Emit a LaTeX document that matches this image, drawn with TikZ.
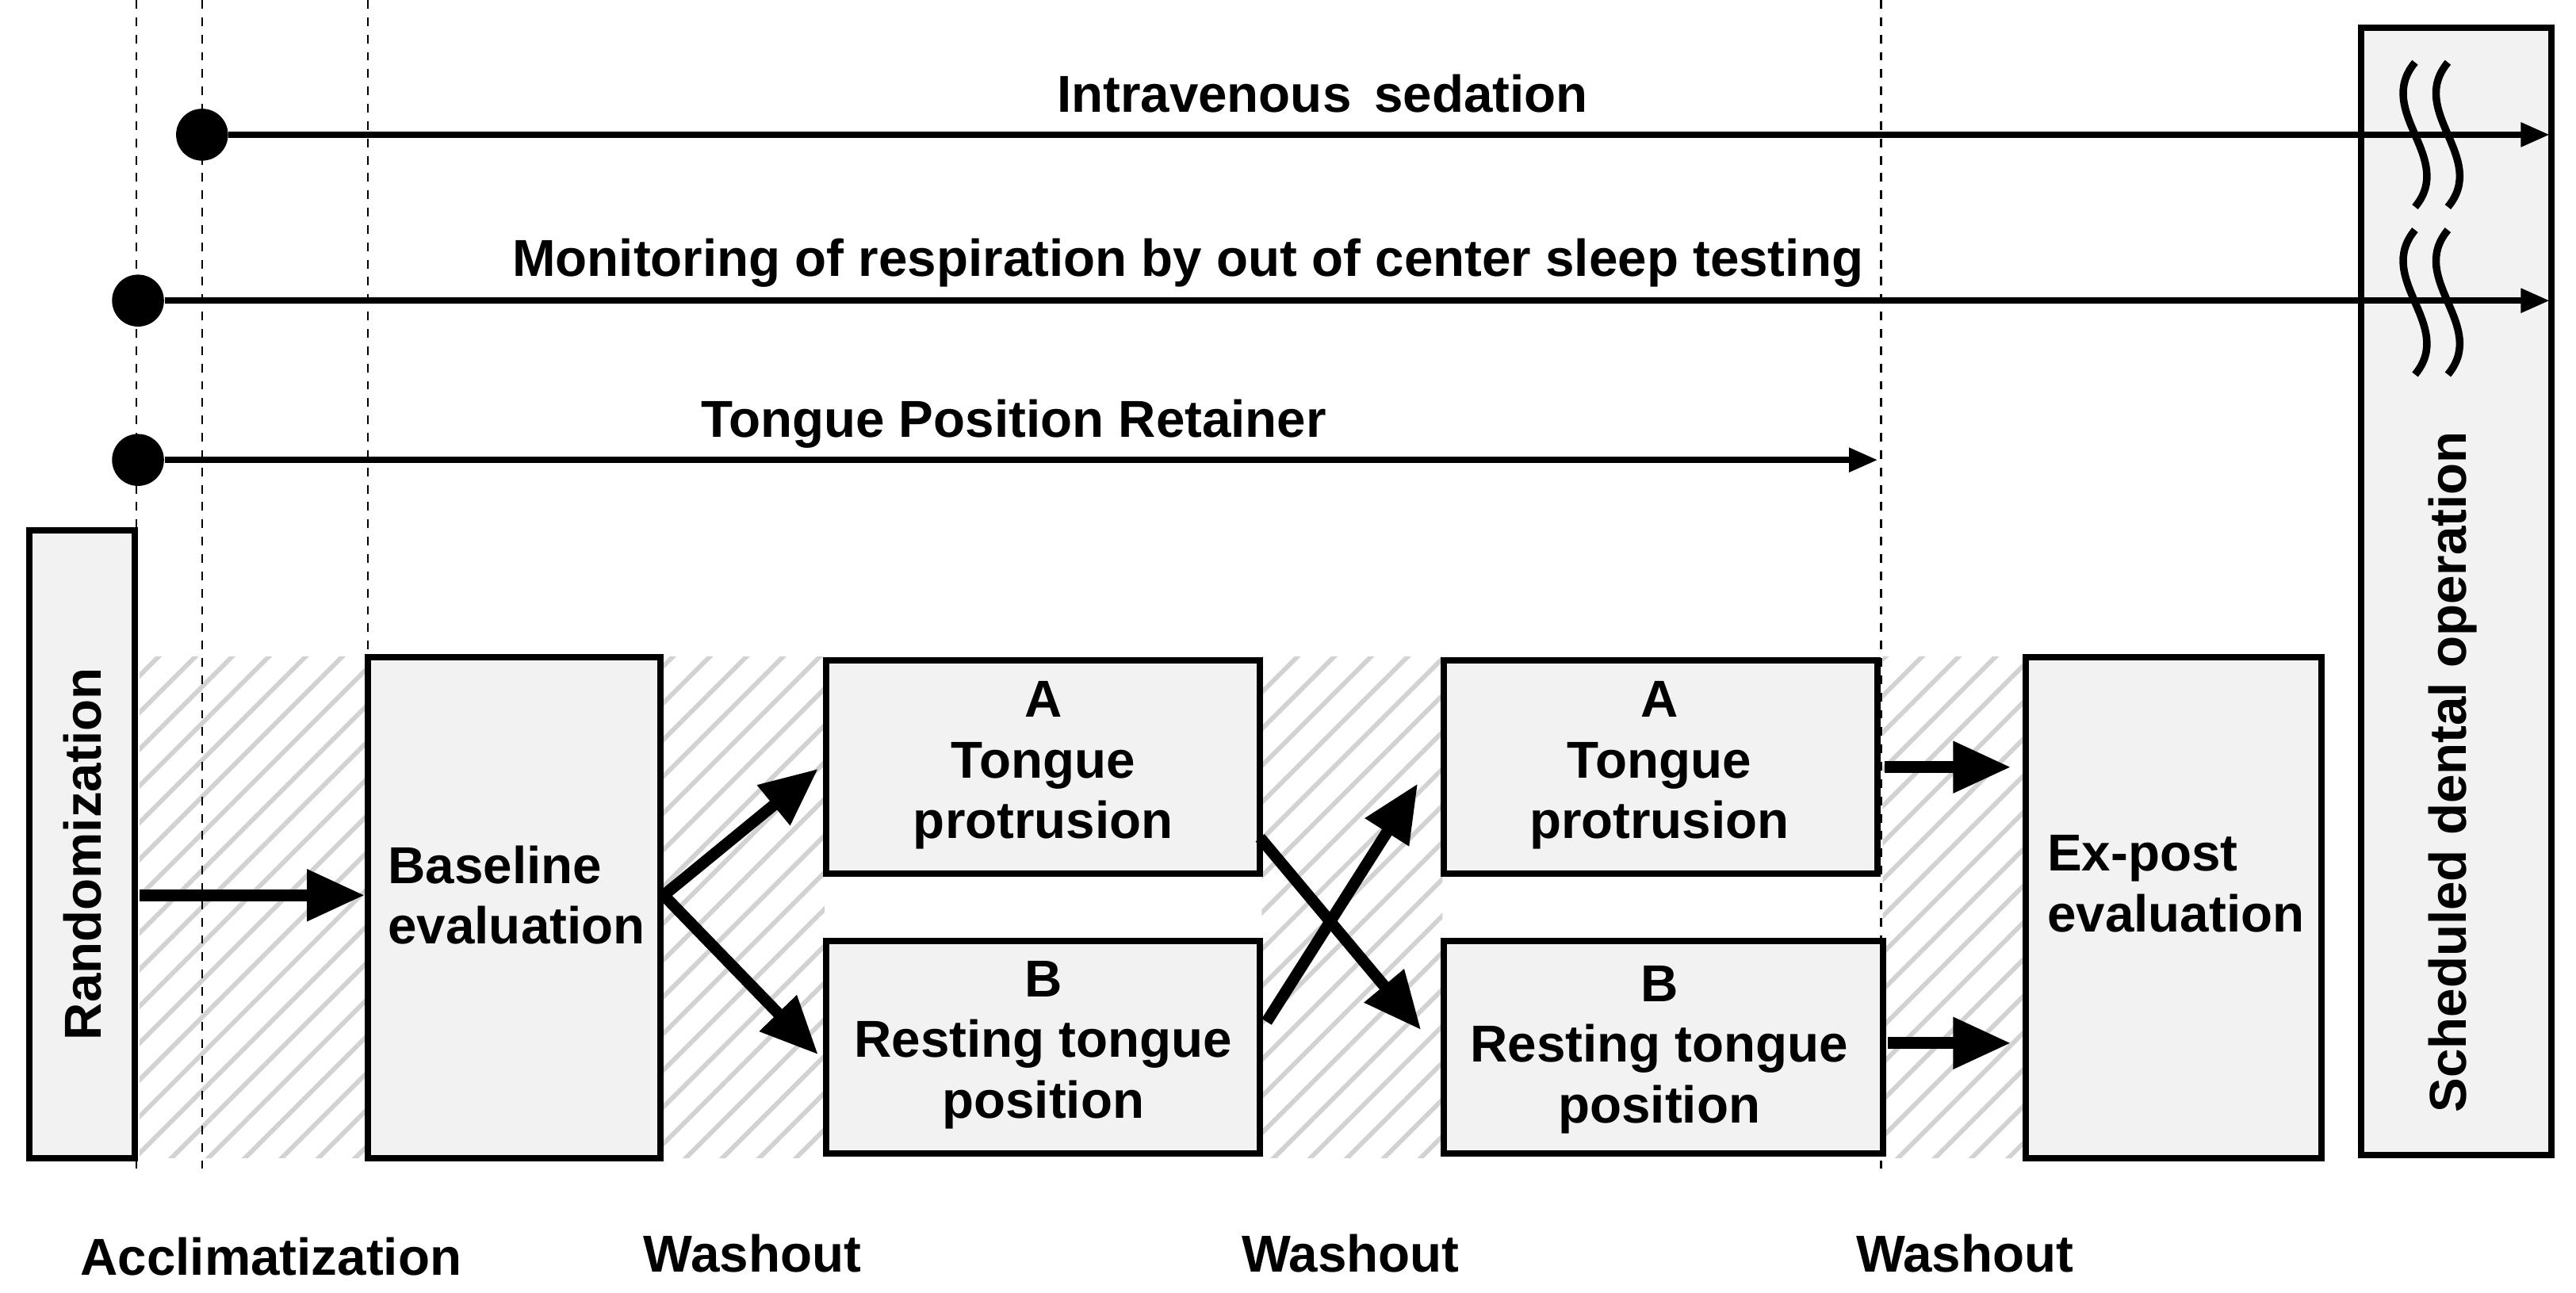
\documentclass[tikz,border=0pt]{standalone}
\usepackage{fontspec}
\setmainfont{Liberation Sans}
\usetikzlibrary{arrows.meta,patterns.meta}
\begin{document}
\begin{tikzpicture}[x=0.02cm,y=-0.02cm,
  hatch/.style={pattern={Lines[angle=45,distance=9pt,line width=1.6pt]},pattern color=gray!35},
  big/.style={line width=4pt,-{Triangle[length=20pt,width=17pt]}},
  thin/.style={line width=2.2pt,-{Triangle[length=10pt,width=8pt]}},
  dot/.style={circle,fill=black,minimum size=18pt,inner sep=0pt},
  vl/.style={dashed,line width=0.6pt},
  bx/.style={line width=2.2pt,fill=gray!10},
  lbl/.style={font=\fontsize{18}{21}\selectfont\bfseries}]
\useasboundingbox (0,0) rectangle (1568,787);
% hatched regions
\fill[hatch] (85,400) rectangle (222,705);
\fill[hatch] (404,400) rectangle (502,705);
\fill[hatch] (768,400) rectangle (878,705);
\fill[hatch] (1146,400) rectangle (1232,705);
% dashed lines
\draw[vl] (83,0) -- (83,715);
\draw[vl] (123,0) -- (123,715);
\draw[vl] (224,0) -- (224,400);
\draw[vl] (1145,0) -- (1145,715);
% boxes
\draw[bx] (18,323) rectangle (82,705);
\node[lbl,rotate=90] (randt) at (50,520) {Randomization};
\draw[bx] (224,400) rectangle (402,705);
\node[lbl,align=left,anchor=west] (base) at (230,545) {Baseline\\evaluation};
\draw[bx] (503,402) rectangle (767,532);
\node[lbl,align=center] (a1) at (635,466) {A\\Tongue\\protrusion};
\draw[bx] (503,573) rectangle (767,702);
\node[lbl,align=center] (b1) at (635,636) {B\\Resting tongue\\position};
\draw[bx] (879,402) rectangle (1143,532);
\node[lbl,align=center] (a2) at (1010,466) {A\\Tongue\\protrusion};
\draw[bx] (879,573) rectangle (1146,702);
\node[lbl,align=center] (b2) at (1010,639) {B\\Resting tongue\\position};
\draw[bx] (1233,400) rectangle (1413,705);
\node[lbl,align=left,anchor=west] (ex) at (1240,538) {Ex-post\\evaluation};
\draw[bx] (1437,17) rectangle (1553,703);
\node[lbl,rotate=90] (sched) at (1493,470) {Scheduled dental operation};
% timeline arrows
\node[dot] (d1) at (123,82) {};
\node[dot] (d2) at (84,183) {};
\node[dot] (d3) at (84,280) {};
\coordinate (e1) at (1552,82);
\coordinate (e2) at (1552,183);
\coordinate (e3) at (1143,280);
\draw[thin] (d1) -- (e1);
\draw[thin] (d2) -- (e2);
\draw[thin] (d3) -- (e3);
\node[lbl] (t1) at (805,57) {Intravenous\, sedation};
\node[lbl] (t2) at (723,160) {Monitoring of respiration by out of center sleep testing};
\node[lbl] (t3) at (617,258) {Tongue Position Retainer};
% squiggles
\foreach \yy in {38,140}{
  \foreach \xx in {1470,1490}{
    \draw[line width=2.6pt] (\xx,\yy) .. controls (\xx-25,\yy+30) and (\xx+25,\yy+58) .. (\xx,\yy+88);
  }
}
% big arrows
\coordinate (r0) at (85,545); \coordinate (r1) at (222,545);
\draw[big] (r0) -- (r1);
\coordinate (bs) at (404,545);
\coordinate (bA) at (498,468); \coordinate (bB) at (498,642);
\draw[big] (bs) -- (bA);
\draw[big] (bs) -- (bB);
\coordinate (x1) at (771,622); \coordinate (x2) at (863,477);
\draw[big] (x1) -- (x2);
\coordinate (x3) at (767,510); \coordinate (x4) at (865,627);
\draw[big] (x3) -- (x4);
\coordinate (p1) at (1147,467); \coordinate (p2) at (1224,467);
\draw[big] (p1) -- (p2);
\coordinate (q1) at (1149,635); \coordinate (q2) at (1224,635);
\draw[big] (q1) -- (q2);
% bottom labels
\node[lbl] (l1) at (165,765) {Acclimatization};
\node[lbl] (l2) at (458,763) {Washout};
\node[lbl] (l3) at (822,763) {Washout};
\node[lbl] (l4) at (1196,763) {Washout};
\end{tikzpicture}
\end{document}
